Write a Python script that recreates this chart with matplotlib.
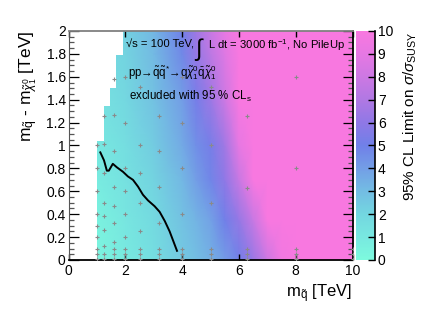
import numpy as np
import matplotlib.pyplot as plt
from matplotlib.colors import LinearSegmentedColormap, Normalize

plt.rcParams['font.family'] = ['Liberation Sans', 'DejaVu Sans']
plt.rcParams['mathtext.fontset'] = 'custom'
plt.rcParams['mathtext.rm'] = 'Liberation Sans'
plt.rcParams['mathtext.it'] = 'Liberation Sans:italic'
plt.rcParams['mathtext.bf'] = 'Liberation Sans:bold'

# grid nodes (TeV) and the 95% CL limit on sigma/sigma_SUSY
m_squark = [1, 2, 3, 4, 4.5, 5, 5.5, 6, 6.5, 7, 7.5, 8, 10]
delta_m = [0, 0.35, 0.7, 1.0, 1.4, 1.8, 2.0]
limit = [
    [0.3, 0.9, 1.6, 2.5, 2.9, 3.4, 4.1, 5.0, 6.3, 8.0, 9.6, 11, 11],
    [0.5, 1.1, 1.8, 2.8, 3.3, 3.9, 5.0, 6.2, 7.8, 10, 11, 11, 11],
    [0.8, 1.4, 2.1, 3.2, 4.0, 4.8, 6.0, 7.8, 10, 11, 11, 11, 11],
    [1.0, 1.6, 2.4, 3.6, 4.5, 5.2, 6.5, 9.0, 10.5, 11, 11, 11, 11],
    [1.3, 1.9, 2.8, 4.0, 5.2, 6.4, 8.0, 10, 11, 11, 11, 11, 11],
    [1.6, 2.1, 3.1, 4.7, 6.2, 7.4, 8.7, 10, 11, 11, 11, 11, 11],
    [1.7, 2.2, 3.2, 5.0, 6.5, 7.8, 9.0, 10.5, 11, 11, 11, 11, 11],
]

# edge of the scanned region: first filled m_squark for each delta_m band
edge_dm = [0, 1.04, 1.345, 1.5, 1.79, 2.0]
edge_msq = [1.0, 1.245, 1.47, 1.68, 1.92]

# scan points
pts_x = [1.0]*9 + [1.25]*9 + [1.6]*10 + [2.0]*9 + [2.5]*8 + [3.17]*7 + [4.0]*7 \
    + [5.0]*6 + [6.3]*5 + [8.0]*5 + [10.0]*3
pts_y = [0.01, 0.05, 0.1, 0.2, 0.3, 0.4, 0.6, 0.8, 1.0,
         0.01, 0.05, 0.12, 0.26, 0.38, 0.5, 0.76, 1.01, 1.26,
         0.01, 0.05, 0.1, 0.155, 0.32, 0.475, 0.635, 0.95, 1.27, 1.58,
         0.01, 0.05, 0.1, 0.2, 0.4, 0.6, 0.8, 1.2, 1.6,
         0.01, 0.05, 0.1, 0.256, 0.5, 0.757, 1.0, 1.51,
         0.01, 0.05, 0.1, 0.32, 0.635, 0.95, 1.26,
         0.01, 0.05, 0.1, 0.4, 0.8, 1.2, 1.6,
         0.01, 0.05, 0.1, 0.5, 1.0, 1.51,
         0.01, 0.05, 0.1, 0.63, 1.26,
         0.01, 0.05, 0.1, 0.8, 1.6,
         0.01, 0.05, 0.1]

# 95% CLs exclusion contour
excl_x = [1.12, 1.25, 1.35, 1.42, 1.56, 1.70, 1.92, 2.09, 2.27, 2.45, 2.62,
          2.80, 3.03, 3.21, 3.39, 3.56, 3.82]
excl_y = [0.94, 0.87, 0.78, 0.78, 0.84, 0.81, 0.77, 0.73, 0.70, 0.64, 0.57,
          0.52, 0.47, 0.42, 0.34, 0.25, 0.08]

palette = ['#7dfade', '#78e8e0', '#73d6e0', '#73bde3', '#739ee6', '#7080e8',
           '#8f78e6', '#b078e3', '#cc78e3', '#e678e3', '#f878e0']
cmap = LinearSegmentedColormap.from_list('susy', palette)
norm = Normalize(0, 10)

fig = plt.figure(figsize=(4.32, 3.10), dpi=100)
ax = fig.add_axes([0.1586, 0.1613, 0.6574, 0.7387])

mesh = ax.pcolormesh(m_squark, delta_m, np.array(limit), cmap=cmap, norm=norm,
                     shading='gouraud', zorder=1)
# blank out the unscanned corner as a staircase
stair_y = np.repeat(edge_dm, 2)[1:-1]
stair_x = np.repeat(edge_msq, 2)
ax.fill_betweenx(stair_y, 0.9, stair_x, color='white', lw=0, zorder=2)
ax.plot(pts_x, pts_y, '+', color='#8a8a8a', ms=3, mew=0.8, zorder=3)
ax.plot(excl_x, excl_y, color='black', lw=1.4, zorder=4)

ax.set_xlim(0, 10)
ax.set_ylim(0, 2)
ax.set_xticks([0, 2, 4, 6, 8, 10])
ax.set_yticks(np.arange(0, 2.01, 0.2))
ax.set_yticklabels(['0', '0.2', '0.4', '0.6', '0.8', '1', '1.2', '1.4', '1.6',
                    '1.8', '2'])
ax.set_yticks(np.arange(0, 2.01, 0.05), minor=True)
ax.tick_params(axis='x', direction='in', top=True, length=4, width=1,
               labelsize=10, pad=3)
ax.tick_params(axis='y', which='major', direction='in', right=True, length=7,
               width=0.9, labelsize=10, pad=2)
ax.tick_params(axis='y', which='minor', direction='in', right=True, length=3.5,
               width=0.9, color='#555555')
for s in ['bottom', 'right']:
    ax.spines[s].set_linewidth(1.3)
ax.spines['top'].set_color('#808080')
ax.spines['top'].set_linewidth(1.3)
ax.spines['left'].set_color('#555555')

ax.set_xlabel(r'm$_{\tilde{\mathrm{q}}}$ [TeV]', fontsize=12, loc='right',
              labelpad=3)
ax.set_ylabel(r'm$_{\tilde{\mathrm{q}}}$ - m$_{\tilde{\chi}^{0}_{1}}$ [TeV]',
              fontsize=12.5, loc='top', labelpad=5)

ax.text(2.01, 1.88, '\u221as = 100 TeV,', fontsize=8.1, va='center',
        zorder=5)
ax.text(4.42, 1.84, r'$\int$', fontsize=17, va='center', zorder=5)
ax.text(4.9, 1.88, r'L dt = 3000 fb$^{-1}$, No PileUp', fontsize=8.1,
        va='center', zorder=5)
ax.text(2.08, 1.64, r'pp→$\tilde{\mathrm{q}}\tilde{\mathrm{q}}^{*}$→q'
        r'$\tilde{\chi}^{0}_{1}\bar{\mathrm{q}}\tilde{\chi}^{0}_{1}$',
        fontsize=8.3, va='center', zorder=5)
ax.text(2.12, 1.43, r'excluded with 95 % CL$_{\mathrm{s}}$', fontsize=8.3,
        va='center', zorder=5)

cax = fig.add_axes([0.824, 0.1613, 0.044, 0.7387])
cb = fig.colorbar(mesh, cax=cax)
cb.set_ticks(range(11))
cb.outline.set_visible(False)
cax.axvline(1, color='black', lw=1.2, clip_on=False)
cax.tick_params(direction='in', length=5, width=1, labelsize=10, pad=2)
cb.set_label(r'95% CL Limit on $\sigma/\sigma_{\mathrm{SUSY}}$', fontsize=11,
             loc='top', labelpad=6)

fig.savefig('out.png', dpi=100)
